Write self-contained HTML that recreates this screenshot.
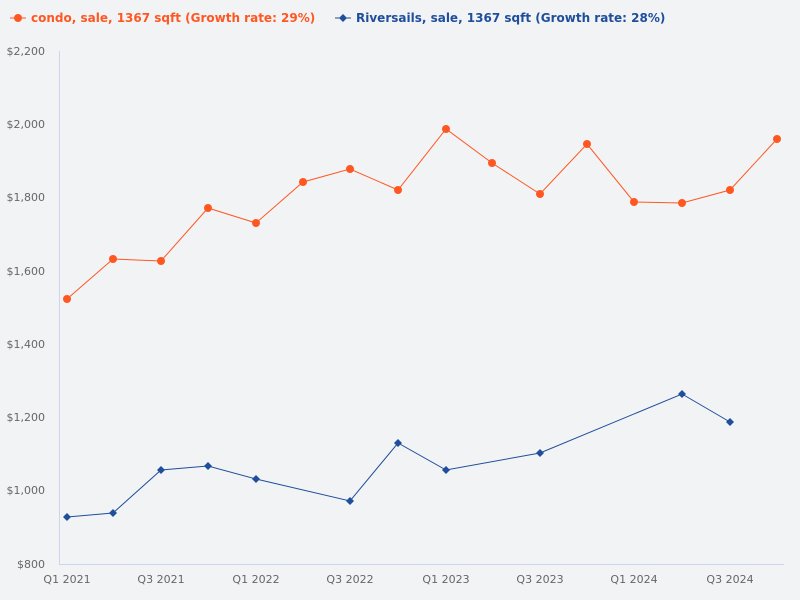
<!DOCTYPE html>
<html><head><meta charset="utf-8"><style>
html,body{margin:0;padding:0;background:#f2f3f5;}
svg{display:block;font-family:"DejaVu Sans","Liberation Sans",sans-serif;}
</style></head><body>
<svg width="800" height="600" viewBox="0 0 800 600">
<rect width="800" height="600" fill="#f2f3f5"/>
<g font-size="11" fill="#666" text-anchor="end">
<text x="45" y="55">$2,200</text>
<text x="45" y="128">$2,000</text>
<text x="45" y="201">$1,800</text>
<text x="45" y="275">$1,600</text>
<text x="45" y="348">$1,400</text>
<text x="45" y="421">$1,200</text>
<text x="45" y="494">$1,000</text>
<text x="45" y="568">$800</text>
</g>
<line x1="59.5" y1="51" x2="59.5" y2="564" stroke="#ccd6eb" stroke-width="1"/>
<line x1="59" y1="564.5" x2="784" y2="564.5" stroke="#ccd6eb" stroke-width="1"/>
<g font-size="11" fill="#666" text-anchor="middle">
<text x="67" y="583">Q1 2021</text>
<text x="161" y="583">Q3 2021</text>
<text x="256" y="583">Q1 2022</text>
<text x="350" y="583">Q3 2022</text>
<text x="446" y="583">Q1 2023</text>
<text x="540" y="583">Q3 2023</text>
<text x="634" y="583">Q1 2024</text>
<text x="730" y="583">Q3 2024</text>
</g>
<polyline fill="none" stroke="#ff5722" stroke-width="1" points="67,299 113,259 161,261 208,208 256,223 303,182 350,169 398,190 446,129 492,163 540,194 587,144 634,202 682,203 730,190 777,139"/>
<g fill="#ff5722">
<circle cx="67" cy="299" r="4"/><circle cx="113" cy="259" r="4"/><circle cx="161" cy="261" r="4"/><circle cx="208" cy="208" r="4"/><circle cx="256" cy="223" r="4"/><circle cx="303" cy="182" r="4"/><circle cx="350" cy="169" r="4"/><circle cx="398" cy="190" r="4"/><circle cx="446" cy="129" r="4"/><circle cx="492" cy="163" r="4"/><circle cx="540" cy="194" r="4"/><circle cx="587" cy="144" r="4"/><circle cx="634" cy="202" r="4"/><circle cx="682" cy="203" r="4"/><circle cx="730" cy="190" r="4"/><circle cx="777" cy="139" r="4"/>
</g>
<polyline fill="none" stroke="#1f4e9c" stroke-width="1" points="67,517 113,513 161,470 208,466 256,479 350,501 398,443 446,470 540,453 682,394 730,422"/>
<g fill="#1f4e9c">
<path d="M67 513l4 4-4 4-4-4z"/><path d="M113 509l4 4-4 4-4-4z"/><path d="M161 466l4 4-4 4-4-4z"/><path d="M208 462l4 4-4 4-4-4z"/><path d="M256 475l4 4-4 4-4-4z"/><path d="M350 497l4 4-4 4-4-4z"/><path d="M398 439l4 4-4 4-4-4z"/><path d="M446 466l4 4-4 4-4-4z"/><path d="M540 449l4 4-4 4-4-4z"/><path d="M682 390l4 4-4 4-4-4z"/><path d="M730 418l4 4-4 4-4-4z"/>
</g>
<line x1="10" y1="18" x2="26" y2="18" stroke="#ff5722" stroke-width="1"/>
<circle cx="18" cy="18" r="4" fill="#ff5722"/>
<text x="31" y="22" font-size="12" font-weight="bold" fill="#ff5722">condo, sale, 1367 sqft (Growth rate: 29%)</text>
<line x1="335" y1="18" x2="351" y2="18" stroke="#1f4e9c" stroke-width="1"/>
<path d="M343 14l4 4-4 4-4-4z" fill="#1f4e9c"/>
<text x="356" y="22" font-size="12" font-weight="bold" fill="#1f4e9c">Riversails, sale, 1367 sqft (Growth rate: 28%)</text>
</svg>
</body></html>
